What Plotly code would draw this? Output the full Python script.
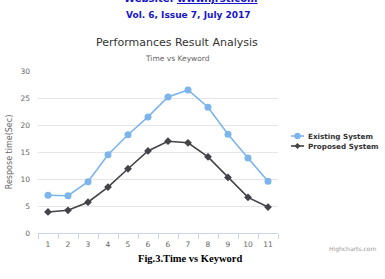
import plotly.graph_objects as go

x_labels = ["1", "2", "3", "4", "5", "6", "6", "7", "8", "9", "10", "11"]
existing = [7.0, 6.9, 9.5, 14.5, 18.2, 21.5, 25.2, 26.5, 23.3, 18.3, 13.9, 9.6]
proposed = [3.9, 4.2, 5.7, 8.5, 11.9, 15.2, 17.0, 16.7, 14.1, 10.3, 6.6, 4.8]
series_names = ["Existing System", "Proposed System"]
series_colors = ["#7cb5ec", "#434348"]

W, H = 385, 279
L, R, T, B = 38, 278, 71, 233

def px(x):
    return (x - L) / (R - L)

def py(y):
    return (B - y) / (B - T)

xs = list(range(len(x_labels)))

fig = go.Figure()
fig.add_trace(go.Scatter(
    x=xs, y=existing, name=series_names[0], mode="lines+markers",
    line=dict(color=series_colors[0], width=1.6),
    marker=dict(symbol="circle", size=7, color=series_colors[0]),
))
fig.add_trace(go.Scatter(
    x=xs, y=proposed, name=series_names[1], mode="lines+markers",
    line=dict(color=series_colors[1], width=1.6),
    marker=dict(symbol="diamond", size=6, color=series_colors[1]),
))

font = "DejaVu Sans"
fig.update_layout(
    width=W, height=H,
    margin=dict(l=L, r=W - R, t=T, b=H - B, pad=0, autoexpand=False),
    paper_bgcolor="white", plot_bgcolor="white",
    showlegend=False,
    xaxis=dict(
        range=[-0.5, len(x_labels) - 0.5],
        tickvals=xs, ticktext=x_labels, ticks="",
        tickfont=dict(family=font, size=7.5, color="#666666"),
        showgrid=False, zeroline=False,
        showline=True, linecolor="#ccd6eb", linewidth=1,
        minor=dict(tickvals=[i - 0.5 for i in range(len(x_labels) + 1)],
                   ticks="outside", ticklen=5, tickcolor="#ccd6eb", showgrid=False),
        ticklabelstandoff=4,
    ),
    yaxis=dict(
        range=[0, 30], dtick=5, tick0=0,
        tickfont=dict(family=font, size=7.5, color="#666666"),
        showgrid=True, gridcolor="#e6e6e6", gridwidth=1,
        zeroline=False, showline=False, ticks="",
        ticklabelstandoff=7,
        title=dict(text="Respose time(Sec)", font=dict(family=font, size=8, color="#666666"), standoff=6),
    ),
)

# Manual legend (symbol line + marker + label)
legend_rows_y = [136, 146]
for i, (name, col) in enumerate(zip(series_names, series_colors)):
    yy = py(legend_rows_y[i])
    fig.add_shape(type="line", xref="paper", yref="paper",
                  x0=px(291), x1=px(304), y0=yy, y1=yy,
                  line=dict(color=col, width=1.6))
    cx = (px(291) + px(304)) / 2
    if i == 0:
        r = 3.2
        fig.add_shape(type="circle", xref="paper", yref="paper",
                      x0=cx - r / (R - L), x1=cx + r / (R - L),
                      y0=yy - r / (B - T), y1=yy + r / (B - T),
                      fillcolor=col, line=dict(color=col, width=0))
    else:
        r = 3.0
        dx, dy = r / (R - L), r / (B - T)
        path = (f"M {cx - dx} {yy} L {cx} {yy + dy} L {cx + dx} {yy} L {cx} {yy - dy} Z")
        fig.add_shape(type="path", xref="paper", yref="paper", path=path,
                      fillcolor=col, line=dict(color=col, width=0))
    fig.add_annotation(xref="paper", yref="paper", showarrow=False,
                       text=name, x=px(306), y=yy, xanchor="left", yanchor="middle",
                       font=dict(family=font, size=7.2, color="#333333", weight="bold"))

annotations = [
    dict(text="Website: <u>www.ijrst.com</u>", x=px(190), y=py(-2), xanchor="center", yanchor="middle",
         font=dict(family=font, size=10, color="#1515d0", weight="bold")),
    dict(text="Vol. 6, Issue 7, July 2017", x=px(188), y=py(15), xanchor="center", yanchor="middle",
         font=dict(family=font, size=9, color="#1515d0", weight="bold")),
    dict(text="Performances Result Analysis", x=px(177), y=py(42), xanchor="center", yanchor="middle",
         font=dict(family=font, size=11, color="#333333")),
    dict(text="Time vs Keyword", x=px(177), y=py(58), xanchor="center", yanchor="middle",
         font=dict(family=font, size=7.5, color="#666666")),
    dict(text="Highcharts.com", x=px(378), y=py(249), xanchor="right", yanchor="middle",
         font=dict(family=font, size=6, color="#999999")),
    dict(text="Fig.3.Time vs Keyword", x=px(190), y=py(258), xanchor="center", yanchor="middle",
         font=dict(family="Liberation Serif", size=10.5, color="#000000", weight="bold")),
]
for a in annotations:
    fig.add_annotation(xref="paper", yref="paper", showarrow=False, **a)

fig.write_html("out.html")
